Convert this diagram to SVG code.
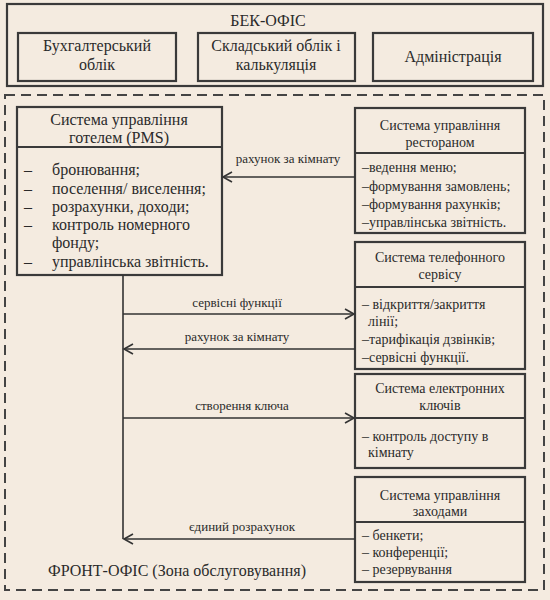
<svg xmlns="http://www.w3.org/2000/svg" width="550" height="600" viewBox="0 0 550 600">
<defs>
<marker id="ah" markerWidth="12" markerHeight="12" refX="10" refY="6" orient="auto" markerUnits="userSpaceOnUse">
<path d="M1,1 L10,6 L1,11" fill="none" stroke="#333" stroke-width="1.6"/>
</marker>
</defs>
<style>
text{font-family:"Liberation Serif","Times New Roman",serif;fill:#2a2a2a}
.box{fill:none;stroke:#3a3a3a;stroke-width:2.2}
.sep{stroke:#3a3a3a;stroke-width:2.2}
.t16{font-size:16px}
.t14{font-size:14px}
.t13{font-size:14px}
.lbl{font-size:13px}
.c{text-anchor:middle}
.con{fill:none;stroke:#333;stroke-width:1.6}
.dash{fill:none;stroke:#444;stroke-width:2;stroke-dasharray:10 6}
</style>
<rect x="0" y="0" width="550" height="600" fill="#f4ebe0"/>

<g id="back-office">
<rect class="box" x="7" y="4" width="536" height="82"/>
<text class="t16 c" x="268" y="26">БЕК-ОФІС</text>
</g>
<g id="accounting">
<rect class="box" x="18" y="33" width="158" height="48"/>
<text class="t16 c" x="97" y="51">Бухгалтерський</text>
<text class="t16 c" x="97" y="70">облік</text>
</g>
<g id="warehouse">
<rect class="box" x="198" y="33" width="157" height="48"/>
<text class="t16 c" x="276" y="51">Складський облік і</text>
<text class="t16 c" x="276" y="70">калькуляція</text>
</g>
<g id="admin">
<rect class="box" x="373" y="33" width="160" height="48"/>
<text class="t16 c" x="453" y="62">Адміністрація</text>
</g>

<g id="front-office">
<rect class="dash" x="5" y="95" width="539" height="495"/>
<text class="t16" x="48" y="576">ФРОНТ-ОФІС (Зона обслуговування)</text>
</g>

<g id="pms">
<rect class="box" x="17" y="107" width="205" height="168"/>
<line class="sep" x1="17" y1="147" x2="222" y2="147"/>
<text class="t16 c" x="119" y="125">Система управління</text>
<text class="t16 c" x="119" y="143">готелем (PMS)</text>
<text class="t16" x="24" y="175">–</text><text class="t16" x="52" y="175">бронювання;</text>
<text class="t16" x="24" y="194">–</text><text class="t16" x="52" y="194">поселення/ виселення;</text>
<text class="t16" x="24" y="212">–</text><text class="t16" x="52" y="212">розрахунки, доходи;</text>
<text class="t16" x="24" y="230">–</text><text class="t16" x="52" y="230">контроль номерного</text>
<text class="t16" x="52" y="248">фонду;</text>
<text class="t16" x="24" y="267">–</text><text class="t16" x="52" y="267">управлінська звітність.</text>
</g>

<g id="restaurant">
<rect class="box" x="355" y="108" width="170" height="125"/>
<line class="sep" x1="355" y1="153" x2="525" y2="153"/>
<text class="t14 c" x="440" y="130">Система управління</text>
<text class="t14 c" x="440" y="147">рестораном</text>
<text class="t13" x="362" y="172">–ведення меню;</text>
<text class="t13" x="362" y="191">–формування замовлень;</text>
<text class="t13" x="362" y="209">–формування рахунків;</text>
<text class="t13" x="362" y="227">–управлінська звітність.</text>
</g>

<g id="telephone">
<rect class="box" x="355" y="242" width="170" height="127"/>
<line class="sep" x1="355" y1="287" x2="525" y2="287"/>
<text class="t14 c" x="440" y="262">Система телефонного</text>
<text class="t14 c" x="440" y="279">сервісу</text>
<text class="t13" x="362" y="309">– відкриття/закриття</text>
<text class="t13" x="368" y="326">лінії;</text>
<text class="t13" x="362" y="344">–тарифікація дзвінків;</text>
<text class="t13" x="362" y="362">–сервісні функції.</text>
</g>

<g id="keys">
<rect class="box" x="355" y="374" width="170" height="94"/>
<line class="sep" x1="355" y1="418" x2="525" y2="418"/>
<text class="t14 c" x="440" y="393">Система електронних</text>
<text class="t14 c" x="440" y="410">ключів</text>
<text class="t13" x="362" y="441">– контроль доступу в</text>
<text class="t13" x="368" y="457">кімнату</text>
</g>

<g id="events">
<rect class="box" x="355" y="477" width="170" height="105"/>
<line class="sep" x1="355" y1="522" x2="525" y2="522"/>
<text class="t14 c" x="440" y="500">Система управління</text>
<text class="t14 c" x="440" y="516">заходами</text>
<text class="t13" x="362" y="540">– бенкети;</text>
<text class="t13" x="362" y="557">– конференції;</text>
<text class="t13" x="362" y="574">– резервування</text>
</g>

<g id="connectors">
<line class="con" x1="355" y1="177" x2="223" y2="177" marker-end="url(#ah)"/>
<line class="con" x1="123" y1="275" x2="123" y2="539"/>
<line class="con" x1="123" y1="314" x2="354" y2="314" marker-end="url(#ah)"/>
<line class="con" x1="355" y1="349" x2="124" y2="349" marker-end="url(#ah)"/>
<line class="con" x1="123" y1="418" x2="354" y2="418" marker-end="url(#ah)"/>
<line class="con" x1="355" y1="539" x2="124" y2="539" marker-end="url(#ah)"/>
<text class="lbl c" x="288" y="163">рахунок за кімнату</text>
<text class="lbl c" x="237" y="307">сервісні функції</text>
<text class="lbl c" x="237" y="341">рахунок за кімнату</text>
<text class="lbl c" x="242" y="410">створення ключа</text>
<text class="lbl c" x="242" y="531">єдиний розрахунок</text>
</g>
</svg>
